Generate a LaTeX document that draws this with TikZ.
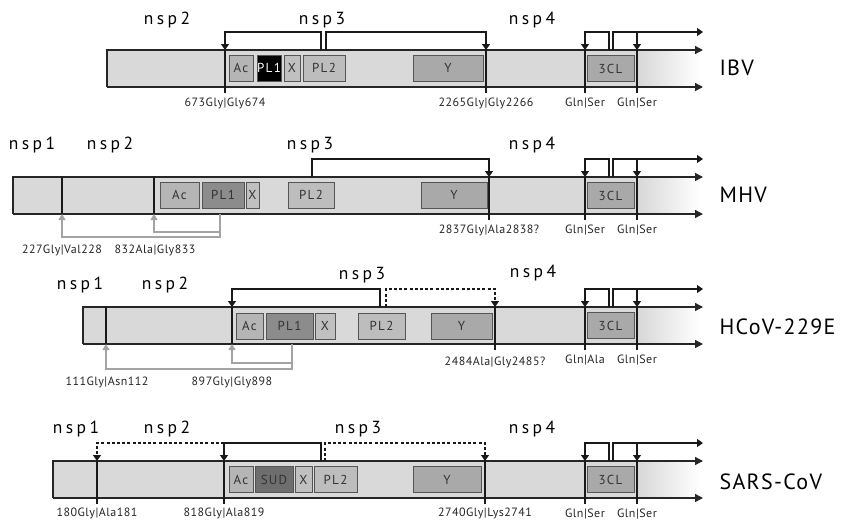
\documentclass[tikz,border=0pt]{standalone}
\usepackage{fontspec}
\setsansfont{PT Sans}
\newfontfamily\nspfont[LetterSpace=20]{PT Sans}
\newfontfamily\boxfont[LetterSpace=10]{PT Sans}
\newfontfamily\sitefont[LetterSpace=4]{PT Sans}
\newfontfamily\virusfont[LetterSpace=6]{PT Sans}
\usetikzlibrary{arrows.meta}

\definecolor{barfill}{HTML}{D9D9D9}
\definecolor{boxline}{HTML}{555555}
\definecolor{cac}{HTML}{B5B5B5}
\definecolor{cx}{HTML}{C0C0C0}
\definecolor{cpltwo}{HTML}{BDBDBD}
\definecolor{cy}{HTML}{A9A9A9}
\definecolor{cpl}{HTML}{8C8C8C}
\definecolor{csud}{HTML}{6E6E6E}
\definecolor{backline}{HTML}{A3A3A3}

\begin{document}
\begin{tikzpicture}[
  x=1pt, y=-1pt,
  font=\sffamily,
  dom/.style={draw=boxline, line width=0.9pt, minimum height=26pt, inner sep=0pt,
              font=\boxfont\fontsize{13}{15}\selectfont, text=black!80},
  edge/.style={line width=1.4pt, black!85, -{Triangle[length=8pt,width=8pt]}},
  brk/.style={line width=1.3pt, black!90, -{Triangle[length=6pt,width=8pt]}},
  brkd/.style={brk, dash pattern=on 3pt off 2.2pt},
  site/.style={line width=1.3pt, black!90},
  back/.style={line width=1.1pt, backline, -{Triangle[length=6pt,width=7pt]}},
  lab/.style={font=\sitefont\fontsize{12}{14}\selectfont, text=black!85},
  nsp/.style={font=\nspfont\fontsize{17.5}{20}\selectfont},
  virus/.style={font=\virusfont\fontsize{22}{25}\selectfont, anchor=west},
]
\useasboundingbox (0,0) rectangle (851,522);

% common part of the four polyproteins: bar, 3CL and its cleavage sites
\foreach \r/\t/\l/\g in {ibv/50/107/Ser, mhv/177/13/Ser, hcov/307/83/Ala, sars/461/53/Ser}{
  \begin{scope}[shift={(0,\t)}]
    \fill[barfill] (\l,0) rectangle (640,37);
    \shade[left color=barfill, right color=white] (640,0) rectangle (700,37);
    \coordinate (\r-a) at (\l,37);
    \coordinate (\r-b) at (\l,0);
    \coordinate (\r-top) at (703,0);
    \coordinate (\r-bot) at (703,37);
    \draw[edge] (\r-a) -- (\r-b) -- (\r-top);
    \draw[edge] (\r-a) -- (\r-bot);
    \node[dom, fill=cy, minimum width=47pt] (\r-3cl) at (610.5,18.5) {3CL};
    \coordinate (\r-q1) at (585,0);
    \coordinate (\r-q2) at (637,0);
    \coordinate (\r-f1) at (609,0);
    \coordinate (\r-f2) at (613,0);
    \coordinate (\r-j) at (637,-18);
    \coordinate (\r-out) at (703,-18);
    \draw[site] (\r-q1) -- ++(0,43);
    \draw[site] (\r-q2) -- ++(0,43);
    \draw[brk] (\r-f1) -- ++(0,-18) -| (\r-q1);
    \draw[brk] (\r-f2) -- ++(0,-18) -- (\r-out);
    \draw[brk] (\r-j) -- (\r-q2);
    \node[lab] (\r-g1) at (585,53) {Gln|\g};
    \node[lab] (\r-g2) at (637,53) {Gln|Ser};
  \end{scope}
}

% IBV
\begin{scope}[shift={(0,50)}]
  \node[dom, fill=cac, minimum width=24pt] (ibv-ac) at (241,18) {Ac};
  \node[dom, fill=black, text=white, minimum width=24pt] (ibv-pl1) at (269,18) {PL1};
  \node[dom, fill=cx, minimum width=16pt] (ibv-x) at (292,18) {X};
  \node[dom, fill=cpltwo, minimum width=42pt] (ibv-pl2) at (324,18) {PL2};
  \node[dom, fill=cy, minimum width=70pt] (ibv-y) at (448,18) {Y};
  \coordinate (ibv-s1) at (225,0);
  \coordinate (ibv-s2) at (486,0);
  \coordinate (ibv-f1) at (321,0);
  \coordinate (ibv-f2) at (326,0);
  \draw[site] (ibv-s1) -- ++(0,43);
  \draw[site] (ibv-s2) -- ++(0,43);
  \draw[brk] (ibv-f1) -- ++(0,-18) -| (ibv-s1);
  \draw[brk] (ibv-f2) -- ++(0,-18) -| (ibv-s2);
  \node[lab] (ibv-l1) at (225,53) {673Gly|Gly674};
  \node[lab] (ibv-l2) at (486,53) {2265Gly|Gly2266};
  \node[nsp] (ibv-n2) at (167,-30) {nsp2};
  \node[nsp] (ibv-n3) at (322,-30) {nsp3};
  \node[nsp] (ibv-n4) at (532,-30) {nsp4};
  \node[virus] (ibv) at (716,18) {IBV};
\end{scope}

% MHV
\begin{scope}[shift={(0,177)}]
  \node[dom, fill=cac, minimum width=39pt] (mhv-ac) at (179.5,18) {Ac};
  \node[dom, fill=cpl, minimum width=42pt] (mhv-pl1) at (223,18) {PL1};
  \node[dom, fill=cx, minimum width=13pt] (mhv-x) at (252.5,18) {X};
  \node[dom, fill=cpltwo, minimum width=46pt] (mhv-pl2) at (311,18) {PL2};
  \node[dom, fill=cy, minimum width=66pt] (mhv-y) at (454,18) {Y};
  \coordinate (mhv-s1) at (62,37);
  \coordinate (mhv-s2) at (154,37);
  \coordinate (mhv-s3) at (489,0);
  \coordinate (mhv-f1) at (312,0);
  \coordinate (mhv-p) at (220,37);
  \coordinate (mhv-j) at (220,55);
  \draw[site] (mhv-s1) -- ++(0,-37);
  \draw[site] (mhv-s2) -- ++(0,-37);
  \draw[site] (mhv-s3) -- ++(0,43);
  \draw[brk] (mhv-f1) -- ++(0,-18) -| (mhv-s3);
  \draw[back] (mhv-p) -- ++(0,23) -| (mhv-s1);
  \draw[back] (mhv-j) -| (mhv-s2);
  \node[lab] (mhv-l1) at (62,73) {227Gly|Val228};
  \node[lab] (mhv-l2) at (155,73) {832Ala|Gly833};
  \node[lab] (mhv-l3) at (489,53) {2837Gly|Ala2838?};
  \node[nsp] (mhv-n1) at (32,-32) {nsp1};
  \node[nsp] (mhv-n2) at (110,-32) {nsp2};
  \node[nsp] (mhv-n3) at (310,-32) {nsp3};
  \node[nsp] (mhv-n4) at (532,-32) {nsp4};
  \node[virus] (mhv) at (716,18) {MHV};
\end{scope}

% HCoV-229E
\begin{scope}[shift={(0,307)}]
  \node[dom, fill=cac, minimum width=27pt] (hcov-ac) at (249.5,19) {Ac};
  \node[dom, fill=cpl, minimum width=47pt] (hcov-pl1) at (289.5,19) {PL1};
  \node[dom, fill=cx, minimum width=20pt] (hcov-x) at (325,19) {X};
  \node[dom, fill=cpltwo, minimum width=47pt] (hcov-pl2) at (381.5,19) {PL2};
  \node[dom, fill=cy, minimum width=61pt] (hcov-y) at (461.5,19) {Y};
  \coordinate (hcov-s1) at (106,37);
  \coordinate (hcov-s2) at (232,37);
  \coordinate (hcov-s3) at (232,0);
  \coordinate (hcov-s4) at (495,0);
  \coordinate (hcov-f1) at (380,0);
  \coordinate (hcov-f2) at (386,0);
  \coordinate (hcov-p) at (292,37);
  \coordinate (hcov-j) at (292,56);
  \draw[site] (hcov-s1) -- ++(0,-37);
  \draw[site] (hcov-s2) -- (hcov-s3);
  \draw[site] (hcov-s4) -- ++(0,43);
  \draw[brk] (hcov-f1) -- ++(0,-18) -| (hcov-s3);
  \draw[brkd] (hcov-f2) -- ++(0,-18) -| (hcov-s4);
  \draw[back] (hcov-p) -- ++(0,25) -| (hcov-s1);
  \draw[back] (hcov-j) -| (hcov-s2);
  \node[lab] (hcov-l1) at (107,75) {111Gly|Asn112};
  \node[lab] (hcov-l2) at (232,75) {897Gly|Gly898};
  \node[lab] (hcov-l3) at (495,55) {2484Ala|Gly2485?};
  \node[nsp] (hcov-n1) at (80,-22) {nsp1};
  \node[nsp] (hcov-n2) at (165,-22) {nsp2};
  \node[nsp] (hcov-n3) at (362,-32) {nsp3};
  \node[nsp] (hcov-n4) at (533,-34) {nsp4};
  \node[virus] (hcov) at (716,20) {HCoV-229E};
\end{scope}

% SARS-CoV
\begin{scope}[shift={(0,461)}]
  \node[dom, fill=cac, minimum width=24pt] (sars-ac) at (241,18.5) {Ac};
  \node[dom, fill=csud, minimum width=38pt] (sars-sud) at (274,18.5) {SUD};
  \node[dom, fill=cx, minimum width=17pt] (sars-x) at (303.5,18.5) {X};
  \node[dom, fill=cpltwo, minimum width=43pt] (sars-pl2) at (335.5,18.5) {PL2};
  \node[dom, fill=cy, minimum width=68pt] (sars-y) at (447,18.5) {Y};
  \coordinate (sars-s1) at (97,0);
  \coordinate (sars-s2) at (224,0);
  \coordinate (sars-s3) at (485,0);
  \coordinate (sars-f1) at (321,0);
  \coordinate (sars-f2) at (325,0);
  \coordinate (sars-k) at (224,-18);
  \draw[site] (sars-s1) -- ++(0,43);
  \draw[site] (sars-s2) -- ++(0,43);
  \draw[site] (sars-s3) -- ++(0,43);
  \draw[brkd] (sars-k) -| (sars-s1);
  \draw[brk] (sars-f1) -- ++(0,-18) -| (sars-s2);
  \draw[brkd] (sars-f2) -- ++(0,-18) -| (sars-s3);
  \node[lab] (sars-l1) at (97,52) {180Gly|Ala181};
  \node[lab] (sars-l2) at (224,52) {818Gly|Ala819};
  \node[lab] (sars-l3) at (485,52) {2740Gly|Lys2741};
  \node[nsp] (sars-n1) at (76,-32) {nsp1};
  \node[nsp] (sars-n2) at (167,-32) {nsp2};
  \node[nsp] (sars-n3) at (358,-32) {nsp3};
  \node[nsp] (sars-n4) at (532,-32) {nsp4};
  \node[virus] (sars) at (716,21) {SARS-CoV};
\end{scope}
\end{tikzpicture}
\end{document}
